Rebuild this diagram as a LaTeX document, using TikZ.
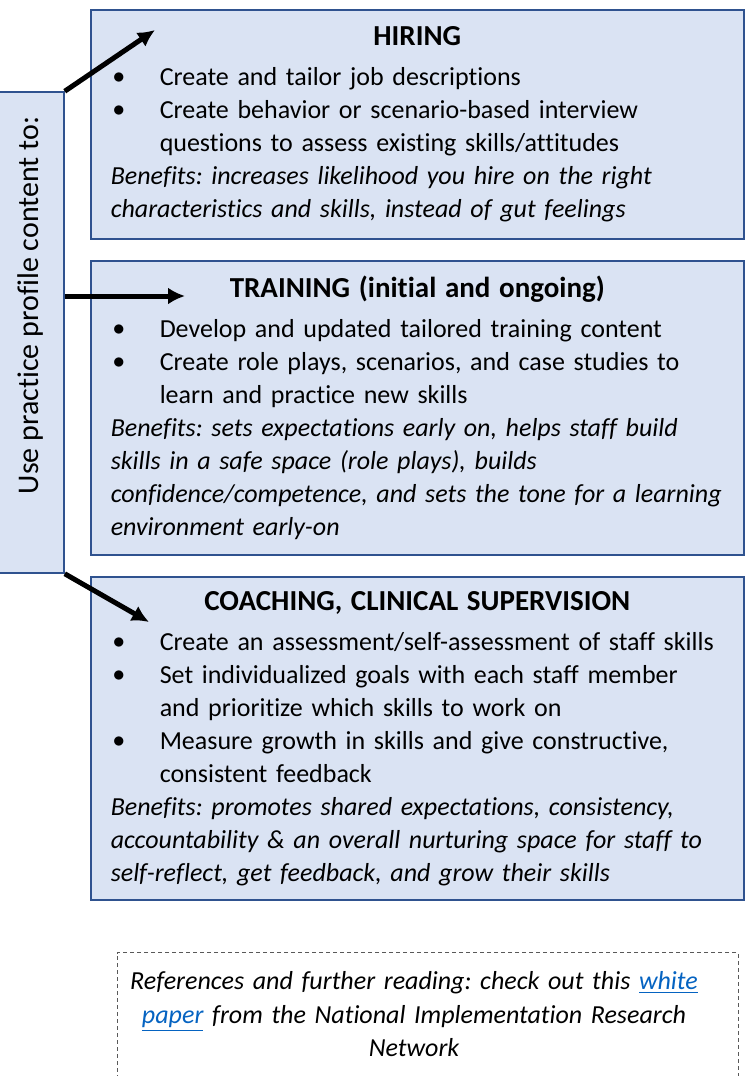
\documentclass[tikz,border=0pt]{standalone}
\usepackage{fontspec}
\usepackage{graphicx}
\setmainfont{Carlito}[Ligatures=NoCommon]
\usetikzlibrary{arrows.meta}

\definecolor{boxfill}{HTML}{DAE3F3}
\definecolor{boxline}{HTML}{2F528F}
\definecolor{linkblue}{HTML}{0563C1}

% bullet list with Word-like indents
\newenvironment{points}{\begin{list}{\raisebox{1pt}{$\bullet$}}{%
  \setlength\leftmargin{24.5pt}\setlength\labelwidth{10pt}%
  \setlength\labelsep{13.5pt}\setlength\topsep{0pt}\setlength\partopsep{0pt}%
  \setlength\itemsep{0pt}\setlength\parsep{0pt}%
  \renewcommand\makelabel[1]{##1\hfil}}}{\end{list}}
\newcommand{\weblink}[1]{\textcolor{linkblue}{\underline{#1}}}
\newcommand{\boxhead}[1]{\vspace*{4.5pt}{\centering\fontsize{14.5}{17}\selectfont\bfseries #1\par}\vspace{-1pt}}

\begin{document}
\frenchspacing
\begin{tikzpicture}[x=0.5pt, y=-0.5pt,
  box/.style={draw=boxline, line width=0.75pt, fill=boxfill, rectangle,
    anchor=north west, minimum width=326.5pt, text width=306.5pt,
    inner xsep=10pt, align=left, font=\fontsize{13}{16.5}\selectfont},
  sidebox/.style={draw=boxline, line width=0.75pt, fill=boxfill, rectangle,
    minimum width=33pt, minimum height=240.5pt, inner sep=0pt,
    font=\fontsize{15}{18}\selectfont},
  refbox/.style={draw=black!65, dash pattern=on 2pt off 1.5pt, line width=0.5pt,
    anchor=north, text width=300pt, inner xsep=5.25pt, inner ysep=9.5pt,
    text depth=70pt, align=left, font=\fontsize{13}{16.75}\selectfont\itshape},
  arrow/.style={line width=2.5pt,-{Latex[length=8.5pt,width=8.5pt]}}
]
\useasboundingbox (0,0) rectangle (745,1076);

\node[sidebox] (use) at (31,332.5) {\rotatebox{90}{\hspace*{27pt}Use practice profile content to:}};

\node[box, minimum height=114.5pt] (hiring) at (90,9) {%
  \boxhead{HIRING}
  \begin{points}
  \item Create and tailor job descriptions
  \item Create behavior or scenario-based interview\\questions to assess existing skills/attitudes
  \end{points}
  \textit{Benefits: increases likelihood you hire on the right\\characteristics and skills, instead of gut feelings}};

\node[box, minimum height=147pt] (training) at (90,260) {%
  \boxhead{TRAINING (initial and ongoing)}
  \begin{points}
  \item Develop and updated tailored training content
  \item Create role plays, scenarios, and case studies to\\learn and practice new skills
  \end{points}
  \textit{Benefits: sets expectations early on, helps staff build\\skills in a safe space (role plays), builds\\confidence/competence, and sets the tone for a learning\\environment early-on}};

\node[box, minimum height=161.5pt] (coaching) at (90,576) {%
  \boxhead{COACHING, CLINICAL SUPERVISION}
  \begin{points}
  \item Create an assessment/self-assessment of staff skills
  \item Set individualized goals with each staff member\\and prioritize which skills to work on
  \item Measure growth in skills and give constructive,\\consistent feedback
  \end{points}
  \textit{Benefits: promotes shared expectations, consistency,\\accountability \& an overall nurturing space for staff to\\self-reflect, get feedback, and grow their skills}};

% text sits a little left of the box centre
\node[refbox] (refs) at (427.5,952) {\leftskip=0pt plus 1fil\rightskip=13.5pt plus 1fil\parfillskip=0pt
  References and further reading: check out this \weblink{white}\\\weblink{paper} from the National Implementation Research\\Network\par};

% arrow ends
\coordinate (hiretip) at (155,30);
\coordinate (traintip) at (185,296);
\coordinate (coachtip) at (149,622);

\draw[arrow] (use.north east) -- (hiretip);
\draw[arrow] (use.east |- traintip) -- (traintip);
\draw[arrow] (use.south east) -- (coachtip);
\end{tikzpicture}
\end{document}
